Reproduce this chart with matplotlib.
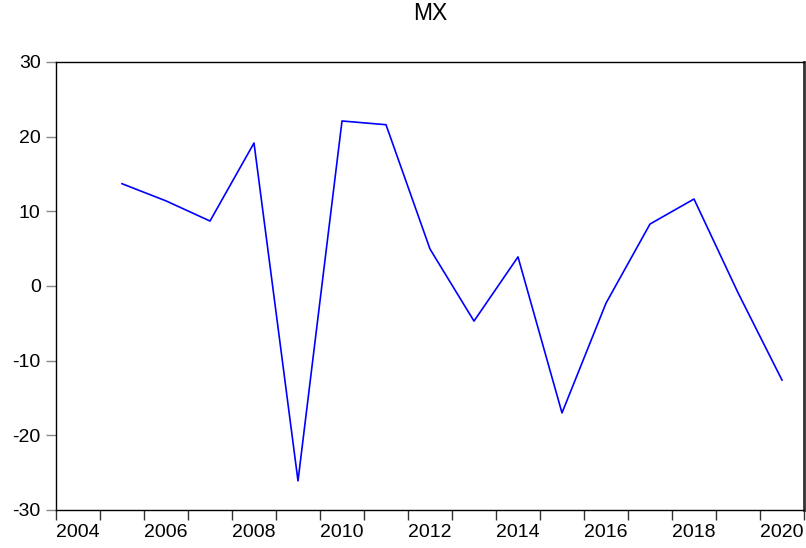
import matplotlib
matplotlib.use('Agg')
import matplotlib.pyplot as plt

plt.rcParams['font.family'] = ['Liberation Sans', 'DejaVu Sans']

# Datos anuales (MX)
years = [2005, 2006, 2007, 2008, 2009, 2010, 2011, 2012,
         2013, 2014, 2015, 2016, 2017, 2018, 2019, 2020]
mx = [13.7, 11.4, 8.7, 19.15, -26.1, 22.1, 21.6, 4.95,
      -4.7, 3.9, -17.0, -2.3, 8.3, 11.65, -0.9, -12.6]
yticks = [-30, -20, -10, 0, 10, 20, 30]
xlabels = [2004, 2006, 2008, 2010, 2012, 2014, 2016, 2018, 2020]

fig = plt.figure(figsize=(8.06, 5.48), dpi=100)
ax = fig.add_axes([56/806, 1-510/548, 748/806, 448/548])

# cada año ocupa [Y, Y+1]; el punto va en el centro
ax.plot([y + 0.5 for y in years], mx, color='#0000ff', lw=1.2)

ax.set_xlim(2004, 2021)
ax.set_ylim(-30, 30)
ax.set_yticks(yticks)
ax.set_yticklabels([str(v) for v in yticks])
ax.set_xticks(range(2004, 2022))
ax.set_xticklabels([])
ax.set_xticks([y + 0.5 for y in xlabels], minor=True)
ax.set_xticklabels([str(y) for y in xlabels], minor=True)
ax.tick_params(axis='x', which='minor', length=0, labelsize=14, pad=10)
ax.tick_params(axis='x', which='major', length=7.5, width=1, color='#333333')
ax.tick_params(axis='y', length=7, width=1, color='#888888', labelsize=14, pad=4)

for s in ax.spines.values():
    s.set_linewidth(1.0)
ax.spines['right'].set_linewidth(2.0)
ax.spines['right'].set_color('#333333')

fig.text(430/806, 1-14/548, 'MX', ha='center', va='center', fontsize=16.5)

fig.savefig('out.png', dpi=100)
